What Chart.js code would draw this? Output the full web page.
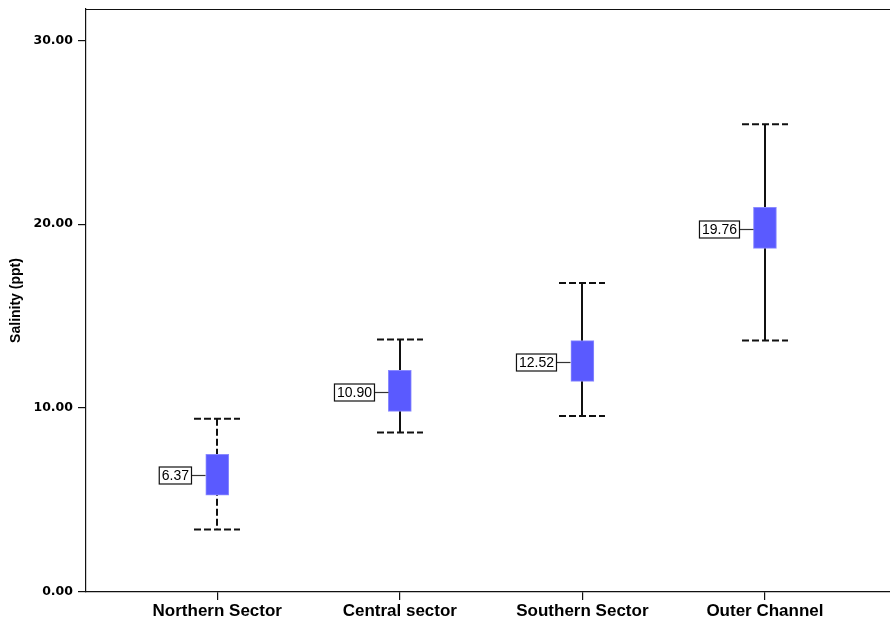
<!DOCTYPE html>
<html>
<head>
<meta charset="utf-8">
<script src="https://cdn.jsdelivr.net/npm/chart.js@4.4.1/dist/chart.umd.min.js"></script>
<style>
  html, body { margin: 0; padding: 0; background: #ffffff; }
  #wrap { width: 890px; height: 622px; position: relative; }
  canvas { display: block; }
</style>
</head>
<body>
<div id="wrap"><canvas id="chart" width="890" height="622"></canvas></div>
<script>
// Salinity by sector: mean, interval box and whisker range
const categories = ['Northern Sector', 'Central sector', 'Southern Sector', 'Outer Channel'];
const meanValues = [6.37, 10.90, 12.52, 19.76];
const boxLow = [5.26, 9.82, 11.45, 18.68];
const boxHigh = [7.49, 12.05, 13.67, 20.91];
const whiskerLow = [3.40, 8.67, 9.57, 13.67];
const whiskerHigh = [9.42, 13.73, 16.80, 25.43];
const yTickValues = [0, 10, 20, 30];

// drawing styles
const INK = '#111111';
const BOX_FILL = '#5a5aff';
const BOX_EDGE = '#8a8aff';
const CAP_HALF = 23;
const LABEL_GAP = 25.5;
const verticalDash = [[7, 3], [], [], []];

const whiskerPlugin = {
  id: 'whiskers',
  beforeDatasetsDraw(chart) {
    const { ctx, scales: { x, y } } = chart;
    ctx.save();
    ctx.strokeStyle = INK;
    ctx.lineWidth = 2;
    categories.forEach((c, i) => {
      const px = Math.round(x.getPixelForValue(i + 1));
      const yl = y.getPixelForValue(whiskerLow[i]);
      const yh = y.getPixelForValue(whiskerHigh[i]);
      ctx.setLineDash(verticalDash[i]);
      ctx.beginPath();
      ctx.moveTo(px, yh);
      ctx.lineTo(px, yl);
      ctx.stroke();
      ctx.setLineDash([7, 3]);
      [yl, yh].forEach(yy => {
        ctx.beginPath();
        ctx.moveTo(px - CAP_HALF, yy);
        ctx.lineTo(px + CAP_HALF, yy);
        ctx.stroke();
      });
    });
    ctx.restore();
  },
  afterDatasetsDraw(chart) {
    const { ctx, scales: { x, y } } = chart;
    ctx.save();
    ctx.font = '14px "Liberation Sans", Arial, sans-serif';
    ctx.textBaseline = 'middle';
    ctx.textAlign = 'left';
    categories.forEach((c, i) => {
      const px = Math.round(x.getPixelForValue(i + 1));
      const ym = Math.round(y.getPixelForValue(meanValues[i])) + 0.5;
      const txt = meanValues[i].toFixed(2);
      const w = ctx.measureText(txt).width;
      const right = px - LABEL_GAP;
      const left = right - w - 5;
      // connector from label to box
      ctx.strokeStyle = '#333333';
      ctx.lineWidth = 1.2;
      ctx.setLineDash([]);
      ctx.beginPath();
      ctx.moveTo(right, ym);
      ctx.lineTo(px - 11.5, ym);
      ctx.stroke();
      // label box
      ctx.fillStyle = '#ffffff';
      ctx.fillRect(left, ym - 8.5, right - left, 17);
      ctx.strokeStyle = INK;
      ctx.lineWidth = 1.2;
      ctx.strokeRect(left, ym - 8.5, right - left, 17);
      ctx.fillStyle = '#000000';
      ctx.fillText(txt, left + 2.5, ym + 0.5);
    });
    ctx.restore();
  },
  afterDraw(chart) {
    // frame line along the top of the plot area
    const { ctx, chartArea } = chart;
    ctx.save();
    ctx.strokeStyle = INK;
    ctx.lineWidth = 1.2;
    ctx.beginPath();
    ctx.moveTo(chartArea.left, chartArea.top + 0.5);
    ctx.lineTo(chartArea.right, chartArea.top + 0.5);
    ctx.stroke();
    ctx.restore();
  }
};

const boxData = categories.map((c, i) => ({ x: i + 1, y: [boxLow[i], boxHigh[i]] }));

new Chart(document.getElementById('chart'), {
  type: 'bar',
  data: {
    datasets: [{
      data: boxData,
      backgroundColor: BOX_FILL,
      borderColor: BOX_EDGE,
      borderWidth: 1,
      borderSkipped: false,
      barThickness: 23
    }]
  },
  options: {
    responsive: false,
    maintainAspectRatio: false,
    animation: false,
    devicePixelRatio: 1,
    layout: { padding: { top: 9, right: 0, left: 0, bottom: 0 } },
    plugins: { legend: { display: false }, tooltip: { enabled: false } },
    scales: {
      x: {
        type: 'linear',
        offset: false,
        min: 0.281,
        max: 4.685,
        afterBuildTicks(scale) { scale.ticks = categories.map((c, i) => ({ value: i + 1 })); },
        afterFit(scale) { scale.height = 30; scale.paddingLeft = 0; scale.paddingRight = 0; },
        ticks: {
          callback: (v) => categories[v - 1],
          color: '#000000',
          font: { family: '"Liberation Sans", Arial, sans-serif', size: 17, weight: 'bold' },
          padding: 1,
          maxRotation: 0,
          autoSkip: false
        },
        grid: { offset: false, drawOnChartArea: false, drawTicks: true, tickLength: 8, color: INK, lineWidth: 1.2 },
        border: { display: true, color: INK, width: 1.2 }
      },
      y: {
        type: 'linear',
        min: 0,
        max: 31.7,
        afterBuildTicks(scale) { scale.ticks = yTickValues.map(v => ({ value: v })); },
        afterFit(scale) { scale.width = 86; scale.paddingTop = 0; scale.paddingBottom = 0; },
        ticks: {
          callback: (v) => v.toFixed(2),
          color: '#000000',
          font: { family: '"DejaVu Sans", Verdana, sans-serif', size: 12.5, weight: 'bold' },
          padding: 5
        },
        title: {
          display: true,
          text: 'Salinity (ppt)',
          color: '#000000',
          font: { family: '"Liberation Sans", Arial, sans-serif', size: 14, weight: 'bold' },
          padding: { top: 8, bottom: 0 }
        },
        grid: { drawOnChartArea: false, drawTicks: true, tickLength: 8, color: INK, lineWidth: 1.2 },
        border: { display: true, color: INK, width: 1.2 }
      }
    }
  },
  plugins: [whiskerPlugin]
});
</script>
</body>
</html>
